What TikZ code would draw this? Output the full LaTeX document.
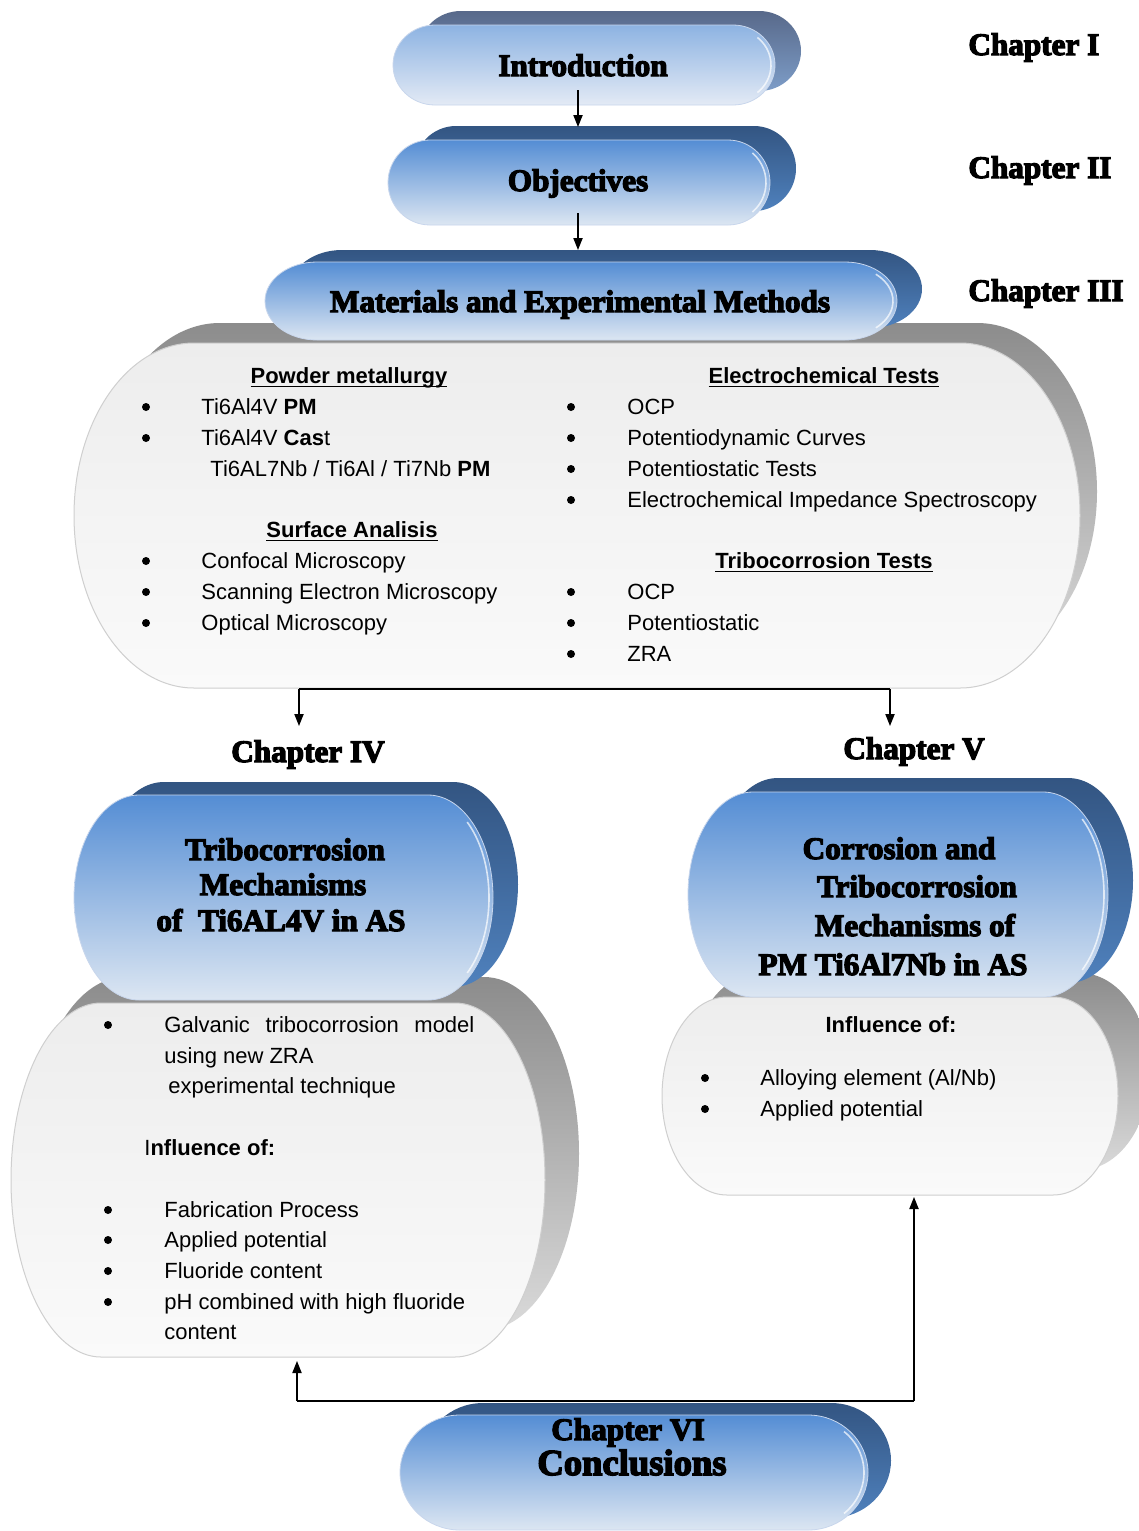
\documentclass[tikz,border=0pt]{standalone}
\usepackage{fontspec}
\setmainfont{Liberation Sans}
\newfontfamily\titlefont{Liberation Serif}[BoldFeatures={FakeBold=4}]
\usetikzlibrary{arrows.meta}
\definecolor{inA}{HTML}{8DB3E2}
\definecolor{inB}{HTML}{E3EAF5}
\definecolor{ibA}{HTML}{58698A}
\definecolor{ibB}{HTML}{7D9DC8}
\definecolor{blA}{HTML}{548DD4}
\definecolor{blB}{HTML}{DCE6F2}
\definecolor{bbA}{HTML}{335582}
\definecolor{bbB}{HTML}{4F81BD}
\definecolor{bedge}{HTML}{C8D6EC}
\definecolor{grA}{HTML}{EDEDED}
\definecolor{grB}{HTML}{FAFAFA}
\definecolor{gbA}{HTML}{8C8C8C}
\definecolor{gbB}{HTML}{DADADA}
\definecolor{gedge}{HTML}{CFCFCF}
\newsavebox\ulbox
\newcommand\ulin[1]{\sbox\ulbox{#1}\rlap{\rule[-2.2pt]{\wd\ulbox}{0.6pt}}\usebox\ulbox}
% optional style, x1, ytop, x2, ybottom, rx   (pixel units, y downwards)
\newcommand\stadium[6][]{%
  \path[#1] ({#2+#6},{-(#3)}) -- ({#4-#6},{-(#3)})
    arc[start angle=90,end angle=-90,x radius={#6*0.5pt},y radius={(#5-#3)*0.25pt}]
    -- ({#2+#6},{-(#5)})
    arc[start angle=270,end angle=90,x radius={#6*0.5pt},y radius={(#5-#3)*0.25pt}]
    -- cycle;}
% highlight along the right end of a blue front: x2, ytop, ybottom, rx
\newcommand\shine[4]{%
  \draw[white,opacity=0.7,line width=0.8pt] ({#1-#4},{-(#2+#3)/2})
    ++(50:{(#4-4)*0.5pt} and {((#3-#2)/2-4)*0.5pt})
    arc[start angle=50,end angle=-50,x radius={(#4-4)*0.5pt},y radius={((#3-#2)/2-4)*0.5pt}];}
\tikzset{
  bluefront/.style={top color=blA,bottom color=blB,draw=bedge,line width=0.4pt},
  blueback/.style={top color=bbA,bottom color=bbB},
  greyfront/.style={top color=grA,bottom color=grB,draw=gedge,line width=0.5pt},
  greyback/.style={top color=gbA,bottom color=gbB},
  ttl/.style={font=\titlefont\bfseries\fontsize{15.6}{18}\selectfont,inner sep=0pt,anchor=base},
  chap/.style={ttl,anchor=base west},
  body/.style={font=\fontsize{11}{13}\selectfont,inner sep=0pt,anchor=base west},
  bul/.style={circle,fill=black,inner sep=0pt,minimum size=4pt},
  head/.style={font=\bfseries\fontsize{11}{13}\selectfont,inner sep=0pt,anchor=base},
  arr/.style={-{Triangle[length=6pt,width=4.6pt]},line width=0.7pt},
  conn/.style={line width=0.7pt}
}
\begin{document}
\begin{tikzpicture}[x=0.5pt,y=0.5pt]
\fill[white] (0,0) rectangle (1139,-1531);
\useasboundingbox (0,0) rectangle (1139,-1531);

% ---- Introduction
\stadium[top color=ibA,bottom color=ibB]{419}{11}{801}{91}{42}
\stadium[top color=inA,bottom color=inB,draw=bedge,line width=0.4pt]{393}{25}{775}{105}{42}
\shine{775}{25}{105}{42}
% ---- Objectives
\stadium[blueback]{414}{126}{796}{211}{42}
\stadium[bluefront]{388}{140}{770}{225}{42}
\shine{770}{140}{225}{42}
% ---- Box III (grey)
\stadium[greyback]{100}{323}{1097}{660}{120}
\stadium[greyfront]{74}{343}{1080}{688}{120}
% ---- Materials
\stadium[blueback]{290}{250}{922}{328}{52}
\stadium[bluefront]{265}{262}{897}{340}{52}
\shine{897}{262}{340}{52}
% ---- Box IV
\stadium[greyback]{30}{977}{579}{1330}{95}
\stadium[greyfront]{11}{1003}{545}{1357}{90}
\stadium[blueback]{99}{782}{518}{987}{65}
\stadium[bluefront]{74}{795}{493}{1000}{65}
\shine{493}{795}{1000}{65}
% ---- Box V
\stadium[greyback]{690}{973}{1150}{1170}{70}
\stadium[greyfront]{662}{997}{1118}{1195}{65}
\stadium[blueback]{713}{778}{1133}{983}{65}
\stadium[bluefront]{688}{792}{1108}{997}{65}
\shine{1108}{792}{997}{65}
% ---- Conclusions
\stadium[blueback]{423}{1403}{891}{1518}{60}
\stadium[bluefront]{400}{1415}{868}{1530}{60}
\shine{868}{1415}{1530}{60}

% ---- titles
\node[ttl] (intro) at (583,-76) {Introduction};
\node[ttl] (obj) at (578,-191) {Objectives};
\node[ttl] (mat) at (580,-312) {Materials and Experimental Methods};
\node[chap] (ch1) at (968,-55) {Chapter I};
\node[chap] (ch2) at (968,-178) {Chapter II};
\node[chap] (ch3) at (968,-301) {Chapter III};
\node[ttl] (ch4) at (308,-762) {Chapter IV};
\node[ttl] (ch5) at (914,-759) {Chapter V};
\node[ttl] (t4a) at (285,-860) {Tribocorrosion};
\node[ttl] (t4b) at (283,-895) {Mechanisms};
\node[ttl] (t4c) at (281,-931) {of\ \ Ti6AL4V in AS};
\node[ttl] (t5a) at (899,-859) {Corrosion and};
\node[ttl] (t5b) at (917,-897) {Tribocorrosion};
\node[ttl] (t5c) at (915,-936) {Mechanisms of};
\node[ttl] (t5d) at (893,-975) {PM Ti6Al7Nb in AS};
\node[ttl] (ch6) at (628,-1440) {Chapter VI};
\node[ttl,font=\titlefont\bfseries\fontsize{18.3}{20}\selectfont] (concl) at (632,-1475) {Conclusions};

% ---- Box III text
\node[head] (hpm) at (349,-383) {\ulin{Powder metallurgy}};
\node[bul] (bpm1) at (146,-407) {};
\node[body] (pm1) at (201,-414) {Ti6Al4V \textbf{PM}};
\node[bul] (bpm2) at (146,-438) {};
\node[body] (pm2) at (201,-445) {Ti6Al4V \textbf{Cas}t};
\node[body] (pm3) at (210,-476) {Ti6AL7Nb / Ti6Al / Ti7Nb \textbf{PM}};
\node[head] (hsa) at (352,-537) {\ulin{Surface Analisis}};
\node[bul] (bsa1) at (146,-561) {};
\node[body] (sa1) at (201,-568) {Confocal Microscopy};
\node[bul] (bsa2) at (146,-592) {};
\node[body] (sa2) at (201,-599) {Scanning Electron Microscopy};
\node[bul] (bsa3) at (146,-623) {};
\node[body] (sa3) at (201,-630) {Optical Microscopy};

\node[head] (het) at (824,-383) {\ulin{Electrochemical Tests}};
\node[bul] (bet1) at (571,-407) {};
\node[body] (et1) at (627,-414) {OCP};
\node[bul] (bet2) at (571,-438) {};
\node[body] (et2) at (627,-445) {Potentiodynamic Curves};
\node[bul] (bet3) at (571,-469) {};
\node[body] (et3) at (627,-476) {Potentiostatic Tests};
\node[bul] (bet4) at (571,-500) {};
\node[body] (et4) at (627,-507) {Electrochemical Impedance Spectroscopy};
\node[head] (htt) at (824,-568) {\ulin{Tribocorrosion Tests}};
\node[bul] (btt1) at (571,-592) {};
\node[body] (tt1) at (627,-599) {OCP};
\node[bul] (btt2) at (571,-623) {};
\node[body] (tt2) at (627,-630) {Potentiostatic};
\node[bul] (btt3) at (571,-654) {};
\node[body] (tt3) at (627,-661) {ZRA};

% ---- Box IV text
\node[bul] (bg1) at (108,-1025) {};
\node[body] (g1) at (164,-1032) {\makebox[155pt][s]{Galvanic\hfill tribocorrosion\hfill model}};
\node[body] (g2) at (164,-1063) {using new ZRA};
\node[body] (g3) at (168,-1093) {experimental technique};
\node[body] (inf4) at (144,-1155) {I\textbf{nfluence of:}};
\node[bul] (bf1) at (108,-1210) {};
\node[body] (f1) at (164,-1217) {Fabrication Process};
\node[bul] (bf2) at (108,-1240) {};
\node[body] (f2) at (164,-1247) {Applied potential};
\node[bul] (bf3) at (108,-1271) {};
\node[body] (f3) at (164,-1278) {Fluoride content};
\node[bul] (bf4) at (108,-1302) {};
\node[body] (f4) at (164,-1309) {pH combined with high fluoride};
\node[body] (f5) at (164,-1339) {content};

% ---- Box V text
\node[head] (inf5) at (891,-1032) {Influence of:};
\node[bul] (bv1) at (705,-1078) {};
\node[body] (v1) at (760,-1085) {Alloying element (Al/Nb)};
\node[bul] (bv2) at (705,-1109) {};
\node[body] (v2) at (760,-1116) {Applied potential};

% ---- connectors
\coordinate (introB) at (578,-90);
\coordinate (objT) at (578,-127);
\coordinate (objB) at (578,-213);
\coordinate (matT) at (578,-250);
\coordinate (b3L) at (299,-689);
\coordinate (b3R) at (890,-689);
\coordinate (c4T) at (299,-726);
\coordinate (c5T) at (890,-726);
\coordinate (c6L) at (297,-1401);
\coordinate (c6R) at (914,-1401);
\coordinate (b4B) at (297,-1361);
\coordinate (b5B) at (914,-1197);
\draw[arr] (introB) -- (objT);
\draw[arr] (objB) -- (matT);
\draw[conn] (b3L) -- (b3R);
\draw[arr] (b3L) -- (c4T);
\draw[arr] (b3R) -- (c5T);
\draw[conn] (c6L) -- (c6R);
\draw[arr] (c6L) -- (b4B);
\draw[arr] (c6R) -- (b5B);
\end{tikzpicture}
\end{document}
